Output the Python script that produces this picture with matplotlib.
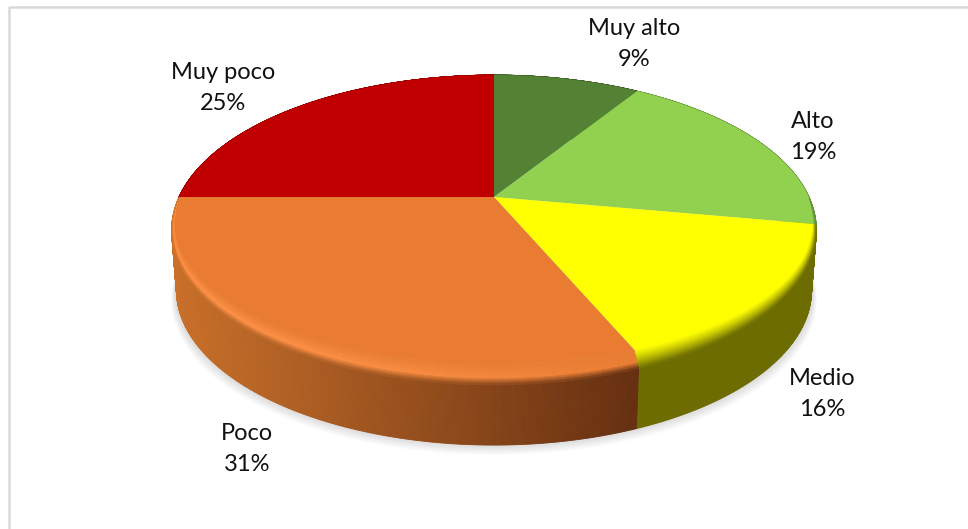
import numpy as np
import matplotlib
matplotlib.use('Agg')
import matplotlib.pyplot as plt
from matplotlib.collections import PolyCollection
from matplotlib.colors import to_rgb

categories = ['Muy alto', 'Alto', 'Medio', 'Poco', 'Muy poco']
values = [9, 19, 16, 31, 25]
top_colors = ['#548235', '#92d050', '#ffff00', '#e97c31', '#c00000']
label_pos = [(634, 44), (813, 137), (822, 394), (247, 449), (223, 88)]

# perspective of the tilted pie, all in image pixels
cx, cy = 494, 197
a, b, k = 315, 148, 0.213
depth = 60


def project(theta, r=1.0):
    # theta is clockwise from 12 o'clock
    u = r * np.sin(theta)
    v = r * np.cos(theta)
    den = 1 + k * v
    return cx + a * u / den, cy - b * v / den


def inner_edge(theta):
    # edge of the flat top, the bevel is only wide at the front
    front = np.clip(-np.cos(theta), 0, 1)
    x, y = project(theta, 1 - 0.025 * np.sqrt(front))
    return x, y - 15 * front ** 1.3


def mix(c1, c2, t):
    return tuple((1 - t) * np.array(to_rgb(c1)) + t * np.array(to_rgb(c2)))


def wall_color(i, x):
    t = (x - 172) / (640 - 172)
    if categories[i] == 'Poco':
        return mix('#c9702a', '#652f10', np.clip(t, 0, 1))
    if categories[i] == 'Medio':
        return to_rgb('#6c6c00')
    if categories[i] == 'Alto':
        return to_rgb('#5f8c3c')
    if categories[i] == 'Muy alto':
        return to_rgb('#3a5a24')
    return to_rgb('#8a0000')


def bevel_color(i, x, f):
    # f goes from flat top (0) to the wall (1)
    if categories[i] != 'Poco':
        return mix(top_colors[i], wall_color(i, x), f ** 1.2)
    t = np.clip((x - 172) / (640 - 172), 0, 1)
    light = mix('#ff9044', top_colors[i], t ** 1.8)
    if f < 0.65:
        return mix(top_colors[i], light, f / 0.65)
    return mix(light, wall_color(i, x), (f - 0.65) / 0.35)


fig = plt.figure(figsize=(9.68, 5.29), dpi=100)
ax = fig.add_axes([0, 0, 1, 1])
ax.set_xlim(0, 968)
ax.set_ylim(529, 0)
ax.axis('off')

# chart frame, only top and left are inside the crop
ax.plot([9, 9, 968], [529, 7, 7], color='#d9d9d9', lw=1.8, zorder=0)

# slice angles from the values
fractions = np.cumsum([0] + values) / sum(values)
angles = 2 * np.pi * fractions

# soft shadow below the pie
th = np.linspace(0, 2 * np.pi, 200)
for g in range(14, 0, -1):
    sx, sy = project(th, 1.0)
    sx = cx + (sx - cx) * (0.985 + g * 0.0012)
    sy = sy + depth + g * 0.85 - 2
    ax.fill(sx, sy, color='#808080', alpha=0.022, lw=0, zorder=1)

# side walls, one thin quad per step so the gradient works
for i in range(len(values)):
    steps = max(int(values[i] * 12), 8)
    t = np.linspace(angles[i], angles[i + 1], steps + 1)
    x, y = project(t)
    polys = []
    cols = []
    for j in range(steps):
        x0, x1 = x[j], x[j + 1]
        polys.append([(x0, y[j]), (x1, y[j + 1]),
                      (cx + (x1 - cx) * 0.985, y[j + 1] + depth),
                      (cx + (x0 - cx) * 0.985, y[j] + depth)])
        cols.append(wall_color(i, (x0 + x1) / 2))
    ax.add_collection(PolyCollection(polys, facecolors=cols, edgecolors=cols, linewidths=0.6, zorder=2))

# bevel between flat top and wall
n_band = 10
for i in range(len(values)):
    steps = max(int(values[i] * 6), 8)
    t = np.linspace(angles[i], angles[i + 1], steps + 1)
    ox, oy = project(t)
    ix, iy = inner_edge(t)
    polys = []
    cols = []
    for n in range(n_band):
        f0, f1 = n / n_band, (n + 1) / n_band
        for j in range(steps):
            polys.append([(ix[j] + (ox[j] - ix[j]) * f0, iy[j] + (oy[j] - iy[j]) * f0),
                          (ix[j + 1] + (ox[j + 1] - ix[j + 1]) * f0, iy[j + 1] + (oy[j + 1] - iy[j + 1]) * f0),
                          (ix[j + 1] + (ox[j + 1] - ix[j + 1]) * f1, iy[j + 1] + (oy[j + 1] - iy[j + 1]) * f1),
                          (ix[j] + (ox[j] - ix[j]) * f1, iy[j] + (oy[j] - iy[j]) * f1)])
            cols.append(bevel_color(i, (ox[j] + ox[j + 1]) / 2, (f0 + f1) / 2))
    ax.add_collection(PolyCollection(polys, facecolors=cols, edgecolors=cols, linewidths=0.4, zorder=3))

# flat top of each slice
for i in range(len(values)):
    t = np.linspace(angles[i], angles[i + 1], 120)
    x, y = inner_edge(t)
    ax.fill(np.r_[cx, x], np.r_[cy, y], color=top_colors[i], lw=0, zorder=4)

for i in range(len(values)):
    ax.text(label_pos[i][0], label_pos[i][1], f'{categories[i]}\n{values[i]}%', ha='center', va='center',
            fontsize=17, family=['Lato', 'DejaVu Sans'], color='#111111', linespacing=1.55, zorder=6)

fig.savefig('out.png', dpi=100)
